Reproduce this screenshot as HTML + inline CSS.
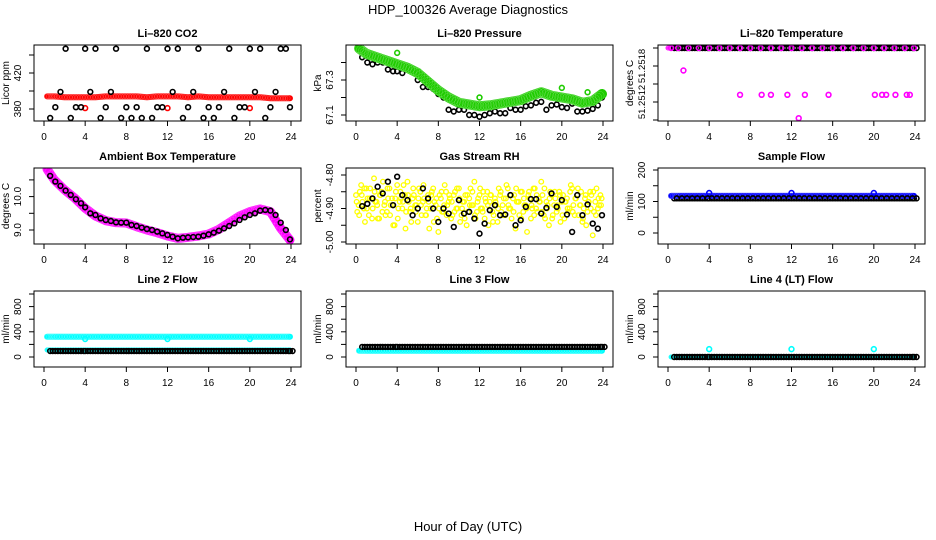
<!DOCTYPE html>
<html><head><meta charset="utf-8"><style>
html,body{margin:0;padding:0;background:#fff;width:936px;height:540px;overflow:hidden}
svg{display:block;font-family:"Liberation Sans",Arial,sans-serif}
</style></head><body>
<svg id="chart" width="936" height="540" viewBox="0 0 936 540" xmlns="http://www.w3.org/2000/svg">
<text x="468" y="14" font-size="13" text-anchor="middle">HDP_100326  Average Diagnostics</text>
<text x="468" y="531" font-size="13" text-anchor="middle">Hour of Day (UTC)</text>
</svg>
<script>
// ---------- data ----------
const xTicks = [0,4,8,12,16,20,24];
const hoursBlack = [0.6,1.1,1.6,2.1,2.6,3.1,3.6,4.0,4.5,5.0,5.5,6.0,6.5,7.0,7.5,8.0,8.5,9.0,9.5,10.0,10.5,11.0,11.5,12.0,12.5,13.0,13.5,14.0,14.5,15.0,15.5,16.0,16.5,17.0,17.5,18.0,18.5,19.0,19.5,20.0,20.5,21.0,21.5,22.0,22.5,23.0,23.5,23.9];
const hoursBand = [0.3,1,2,3,4,5,6,7,8,9,10,11,12,13,14,15,16,17,18,19,20,21,22,23,23.9];

const co2Black = [370,382,399,447,370,382,382,447,399,447,370,382,399,447,370,382,370,382,370,447,370,382,382,447,399,447,370,382,399,447,370,382,370,382,399,447,370,382,382,447,399,447,370,382,399,447,447,382];
const co2Red = [394,394,393,393,393,393,394,394,394,394,393,394,394,394,393,394,393,393,393,393,393,393,392,392,392];
const co2RedLow = [[4.0,381],[12.0,381],[20.0,381]];

const presBlack = [67.43,67.40,67.39,67.40,67.40,67.36,67.35,67.35,67.34,67.36,67.35,67.30,67.26,67.26,67.25,67.22,67.20,67.13,67.12,67.13,67.13,67.10,67.10,67.09,67.10,67.11,67.12,67.11,67.11,67.14,67.13,67.13,67.15,67.155,67.17,67.175,67.13,67.155,67.16,67.145,67.14,67.165,67.12,67.12,67.125,67.135,67.155,67.20];
const presGreen = [67.48,67.45,67.43,67.41,67.39,67.37,67.34,67.29,67.24,67.20,67.17,67.16,67.15,67.155,67.165,67.175,67.185,67.21,67.23,67.21,67.20,67.19,67.17,67.18,67.22];
const presGreenOut = [[4.0,67.455],[12.0,67.2],[20.0,67.255],[22.5,67.23]];

const tempBlack = hoursBlack.map(()=>51.2518);
const tempMag = hoursBand.map(()=>51.2518);
const tempMagOut = [[1.5,51.251775],[7.0,51.251748],[9.1,51.251748],[10.0,51.251748],[11.6,51.251748],[13.3,51.251748],[15.6,51.251748],[20.1,51.251748],[20.8,51.251748],[21.2,51.251748],[22.1,51.251748],[23.2,51.251748],[23.5,51.251748],[12.7,51.251722]];

const ambMag = [10.82,10.5,10.2,9.95,9.65,9.42,9.28,9.22,9.21,9.1,9.0,8.92,8.82,8.75,8.78,8.82,8.88,9.02,9.22,9.42,9.55,9.63,9.55,9.05,8.7];
const ambBlack = [10.62,10.45,10.32,10.18,10.05,9.92,9.8,9.68,9.5,9.45,9.35,9.3,9.27,9.23,9.22,9.22,9.15,9.12,9.07,9.03,9.0,8.95,8.9,8.85,8.8,8.75,8.77,8.78,8.79,8.8,8.83,8.87,8.92,8.98,9.05,9.12,9.2,9.3,9.38,9.45,9.5,9.58,9.6,9.58,9.45,9.22,9.0,8.72];

const rhBlack = [-4.893,-4.886,-4.87,-4.835,-4.855,-4.82,-4.89,-4.805,-4.86,-4.875,-4.92,-4.90,-4.84,-4.87,-4.90,-4.94,-4.90,-4.915,-4.955,-4.875,-4.915,-4.91,-4.93,-4.975,-4.945,-4.905,-4.89,-4.92,-4.918,-4.86,-4.95,-4.935,-4.895,-4.872,-4.872,-4.915,-4.898,-4.855,-4.895,-4.875,-4.918,-4.97,-4.86,-4.92,-4.888,-4.945,-4.96,-4.92];
const rhYellowA = [-4.86,-4.89,-4.83,-4.90,-4.84,-4.92,-4.87,-4.81,-4.88,-4.93,-4.85,-4.89,-4.91,-4.84,-4.87,-4.95,-4.83,-4.88,-4.90,-4.86,-4.82,-4.91,-4.87,-4.89,-4.94,-4.85,-4.88,-4.92,-4.86,-4.90,-4.84,-4.89,-4.97,-4.87,-4.91,-4.85,-4.88,-4.93,-4.86,-4.90,-4.84,-4.92,-4.88,-4.95,-4.87,-4.89,-4.82,-4.91,-4.86,-4.90,-4.93,-4.85,-4.88,-4.91,-4.87,-4.94,-4.86,-4.89,-4.92,-4.84,-4.90,-4.87,-4.96,-4.88,-4.85,-4.91,-4.89,-4.86,-4.93,-4.84,-4.90,-4.87,-4.82,-4.92,-4.88,-4.95,-4.86,-4.89,-4.91,-4.85,-4.88,-4.93,-4.87,-4.90,-4.84,-4.92,-4.86,-4.89,-4.94,-4.87,-4.91,-4.85,-4.98,-4.88,-4.90,-4.86];
const rhYellowB = [-4.91,-4.85,-4.88,-4.94,-4.87,-4.84,-4.90,-4.88,-4.93,-4.86,-4.82,-4.92,-4.87,-4.89,-4.95,-4.85,-4.90,-4.87,-4.83,-4.91,-4.88,-4.94,-4.86,-4.89,-4.84,-4.92,-4.87,-4.90,-4.96,-4.85,-4.88,-4.93,-4.86,-4.91,-4.83,-4.89,-4.87,-4.92,-4.85,-4.90,-4.94,-4.88,-4.86,-4.91,-4.84,-4.89,-4.93,-4.87,-4.90,-4.85,-4.88,-4.95,-4.86,-4.92,-4.89,-4.84,-4.91,-4.87,-4.83,-4.90,-4.93,-4.86,-4.88,-4.92,-4.85,-4.89,-4.97,-4.87,-4.90,-4.84,-4.91,-4.88,-4.86,-4.93,-4.89,-4.85,-4.92,-4.87,-4.90,-4.94,-4.86,-4.88,-4.91,-4.83,-4.89,-4.87,-4.92,-4.85,-4.90,-4.95,-4.88,-4.86,-4.91,-4.84,-4.89,-4.87];
const rhYellowC = [-4.88,-4.92,-4.86,-4.84,-4.90,-4.87,-4.93,-4.85,-4.89,-4.86,-4.91,-4.88,-4.84,-4.92,-4.89,-4.87,-4.93,-4.85,-4.88,-4.96,-4.86,-4.90,-4.84,-4.91,-4.87,-4.89,-4.83,-4.92,-4.88,-4.86,-4.94,-4.87,-4.90,-4.85,-4.89,-4.92,-4.86,-4.88,-4.91,-4.84,-4.87,-4.90,-4.93,-4.86,-4.89,-4.85,-4.92,-4.88,-4.84,-4.91,-4.87,-4.89,-4.86,-4.94,-4.88,-4.90,-4.85,-4.92,-4.87,-4.89,-4.86,-4.91,-4.84,-4.88,-4.93,-4.87,-4.90,-4.85,-4.89,-4.92,-4.86,-4.88,-4.91,-4.84,-4.90,-4.87,-4.93,-4.85,-4.89,-4.86,-4.92,-4.88,-4.90,-4.85,-4.91,-4.87,-4.84,-4.89,-4.93,-4.86,-4.88,-4.90,-4.85,-4.92,-4.87,-4.89];

const flowBlue = hoursBand.map(()=>118);
const flowBlueOut = [[4.0,127],[12.0,127],[20.0,127]];
const flowBlack = hoursBlack.map(()=>110);

const line2CyanHigh = [322,322,322,322,322,322,322,322,322,322,322,322,322,322,322,322,322,322,322,322,322,322,322,322,322];
const line2CyanDip = [[4.0,285],[12.0,285],[20.0,285]];
const line2CyanLow = hoursBand.map(()=>111);
const line2Black = hoursBlack.map(()=>95);
const line3Cyan = hoursBand.map(()=>100);
const line3Black = hoursBlack.map(()=>160);
const line4Cyan = hoursBand.map(()=>0);
const line4CyanOut = [[4.0,125],[12.0,125],[20.0,125]];
const line4Black = hoursBlack.map(()=>0);

const co2Ticks=[380,400,420,440], co2Labels=["380","","420",""];
const presTicks=[67.1,67.2,67.3,67.4], presLabels=["67.1","","67.3",""];
const tempTicks=[51.2518,51.25178,51.25176,51.25174,51.25172], tempLabels=["","51.2518","","51.2512",""];
const ambTicks=[9.0,9.5,10.0,10.5], ambLabels=["9.0","","10.0",""];
const rhTicks=[-5.0,-4.95,-4.9,-4.85,-4.8], rhLabels=["-5.00","","-4.90","","-4.80"];
const sfTicks=[0,50,100,150,200], sfLabels=["0","","100","","200"];
const lfTicks=[0,200,400,600,800,1000], lfLabels=["0","","400","","800",""];

// ---------- drawing ----------
const NS="http://www.w3.org/2000/svg";
const svg=document.getElementById('chart');
function mk(tag,attrs,parent){const e=document.createElementNS(NS,tag);for(const k in attrs)e.setAttribute(k,attrs[k]);(parent||svg).appendChild(e);return e;}

function panel(cfg){
  const g=mk('g',{});
  
  
  const L=cfg.left, T=cfg.top, B=cfg.top+76, R=L+267;
  const xs=h=>L+10+h*247/24;
  const ys=v=>cfg.yRef-(v-cfg.vRef)*cfg.ppu;
  const t=mk('text',{x:(L+R)/2,y:T-8,'font-size':11,'font-weight':'bold','text-anchor':'middle'},g);
  t.textContent=cfg.title;
  
  
  const yt=mk('text',{x:0,y:0,'font-size':10,'text-anchor':'middle',transform:`translate(${L-25},${(T+B)/2}) rotate(-90)`},g);
  yt.textContent=cfg.ylab;
  
  
  xTicks.forEach(h=>{
    mk('line',{x1:xs(h),x2:xs(h),y1:B,y2:B+5,stroke:'#000','stroke-width':1},g);
    const tx=mk('text',{x:xs(h),y:B+19,'font-size':10,'text-anchor':'middle'},g);
    tx.textContent=h;
    
    
  });
  mk('line',{x1:xs(0),x2:xs(24),y1:B,y2:B,stroke:'#000'},g);
  cfg.ticks.forEach((v,i)=>{
    const y=ys(v);
    mk('line',{x1:L-5,x2:L,y1:y,y2:y,stroke:'#000'},g);
    if(cfg.labels[i]){
      const tx=mk('text',{x:0,y:0,'font-size':cfg.tfs||10,'text-anchor':'middle',transform:`translate(${L-13},${y}) rotate(-90)`},g);
      tx.textContent=cfg.labels[i];
      
      
    }
  });
  mk('line',{x1:L,x2:L,y1:ys(cfg.ticks[0]),y2:ys(cfg.ticks[cfg.ticks.length-1]),stroke:'#000'},g);
  const clipId='c'+cfg.name;
  const cp=mk('clipPath',{id:clipId},g);mk('rect',{x:L,y:T,width:267,height:76},cp);
  const dg=mk('g',{'clip-path':`url(#${clipId})`},g);
  cfg.draw(dg,xs,ys);
  const box=mk('rect',{x:L,y:T,width:267,height:76,fill:'none',stroke:'#000','stroke-width':1},g);
  
  
}
function band(g,xs,ys,hrs,vals,color,w,name){
  const p=mk('polyline',{points:hrs.map((h,i)=>xs(h)+','+ys(vals[i])).join(' '),fill:'none',stroke:color,'stroke-width':w,'stroke-linecap':'round','stroke-linejoin':'round'},g);
  
  
  hrs.forEach((h,i)=>{ if(i<hrs.length-1){ for(let k=0;k<4;k++){ const hh=h+(hrs[i+1]-h)*k/4; const vv=vals[i]+(vals[i+1]-vals[i])*k/4;
    mk('circle',{cx:xs(hh),cy:ys(vv),r:w/2-0.5,fill:'none',stroke:'#fff','stroke-width':0.4,opacity:0.35},g);} } });
}
function pts(g,xs,ys,hrs,vals,color,name,r,sw){
  hrs.forEach((h,i)=>{
    const c=mk('circle',{cx:xs(h),cy:ys(vals[i]),r:r||2.4,fill:'none',stroke:color,'stroke-width':sw||1.6},g);
    
    
  });
}
function pairs(g,xs,ys,arr,color,name,r){
  arr.forEach(p=>{
    const c=mk('circle',{cx:xs(p[0]),cy:ys(p[1]),r:r||2.4,fill:'none',stroke:color,'stroke-width':1.6},g);
    
    
  });
}
const qh=a=>a.map((_,i)=>i*0.25);

panel({name:'co2-panel',title:'Li\u2013820 CO2',ylab:'Licor ppm',left:34,top:45,vRef:380,yRef:109,ppu:0.9,ticks:co2Ticks,labels:co2Labels,
 draw:(g,xs,ys)=>{band(g,xs,ys,hoursBand,co2Red,'#f00',6,'co2-red-series');pairs(g,xs,ys,co2RedLow,'#f00','co2-red-point');pts(g,xs,ys,hoursBlack,co2Black,'#000','co2-black-point');}});
panel({name:'pressure-panel',title:'Li\u2013820 Pressure',ylab:'kPa',left:346,top:45,vRef:67.1,yRef:115,ppu:175,ticks:presTicks,labels:presLabels,
 draw:(g,xs,ys)=>{pts(g,xs,ys,hoursBlack,presBlack,'#000','pressure-black-point');band(g,xs,ys,hoursBand,presGreen,'#1fcc00',10,'pressure-green-series');pairs(g,xs,ys,presGreenOut,'#1fcc00','pressure-green-point');}});
panel({name:'temperature-panel',title:'Li\u2013820 Temperature',ylab:'degrees C',left:658,top:45,vRef:51.2518,yRef:48,ppu:900000,ticks:tempTicks,labels:tempLabels,tfs:9.5,
 draw:(g,xs,ys)=>{band(g,xs,ys,[0,0.4],[51.2518,51.2518],'#f0f',5,'temp-magenta-series');pts(g,xs,ys,hoursBlack,tempBlack,'#000','temp-black-point');pts(g,xs,ys,hoursBlack.map(h=>h+0.25),tempBlack,'#000','temp-black-point');pts(g,xs,ys,hoursBand,tempMag,'#f0f','temp-magenta-point');pairs(g,xs,ys,tempMagOut,'#f0f','temp-magenta-outlier');}});
panel({name:'ambient-panel',title:'Ambient Box Temperature',ylab:'degrees C',left:34,top:168,vRef:9.0,yRef:230,ppu:33.4,ticks:ambTicks,labels:ambLabels,
 draw:(g,xs,ys)=>{band(g,xs,ys,hoursBand,ambMag,'#f0f',9,'ambient-magenta-series');pts(g,xs,ys,hoursBlack,ambBlack,'#000','ambient-black-point');}});
panel({name:'rh-panel',title:'Gas Stream RH',ylab:'percent',left:346,top:168,vRef:-4.8,yRef:175,ppu:335,ticks:rhTicks,labels:rhLabels,
 draw:(g,xs,ys)=>{pts(g,xs,ys,qh(rhYellowA),rhYellowA,'#ff0','rh-yellow-point',2.3,1.3);pts(g,xs,ys,qh(rhYellowB).map(h=>h+0.12),rhYellowB,'#ff0','rh-yellow-point',2.3,1.3);pts(g,xs,ys,qh(rhYellowC).map(h=>h+0.06),rhYellowC,'#ff0','rh-yellow-point',2.3,1.3);pts(g,xs,ys,hoursBlack,rhBlack,'#000','rh-black-point');}});
panel({name:'sample-flow-panel',title:'Sample Flow',ylab:'ml/min',left:658,top:168,vRef:0,yRef:233,ppu:0.315,ticks:sfTicks,labels:sfLabels,
 draw:(g,xs,ys)=>{pts(g,xs,ys,hoursBlack,flowBlack,'#000','flow-black-point');band(g,xs,ys,hoursBand,flowBlue,'#00f',6,'flow-blue-series');pairs(g,xs,ys,flowBlueOut,'#00f','flow-blue-point');pts(g,xs,ys,hoursBlack.map(h=>h+0.25),flowBlack,'#000','flow-black-point');}});
panel({name:'line2-flow-panel',title:'Line 2 Flow',ylab:'ml/min',left:34,top:291,vRef:0,yRef:357,ppu:0.063,ticks:lfTicks,labels:lfLabels,
 draw:(g,xs,ys)=>{band(g,xs,ys,hoursBand,line2CyanHigh,'#0ff',6,'line2-cyan-high');pairs(g,xs,ys,line2CyanDip,'#0ff','line2-cyan-dip');band(g,xs,ys,hoursBand,line2CyanLow,'#0ff',5,'line2-cyan-low');pts(g,xs,ys,hoursBlack,line2Black,'#000','line2-black-point');pts(g,xs,ys,hoursBlack.map(h=>h+0.25),line2Black,'#000','line2-black-point');}});
panel({name:'line3-flow-panel',title:'Line 3 Flow',ylab:'ml/min',left:346,top:291,vRef:0,yRef:357,ppu:0.063,ticks:lfTicks,labels:lfLabels,
 draw:(g,xs,ys)=>{band(g,xs,ys,hoursBand,line3Cyan,'#0ff',6,'line3-cyan-series');pts(g,xs,ys,hoursBlack,line3Black,'#000','line3-black-point');pts(g,xs,ys,hoursBlack.map(h=>h+0.25),line3Black,'#000','line3-black-point');}});
panel({name:'line4-flow-panel',title:'Line 4 (LT) Flow',ylab:'ml/min',left:658,top:291,vRef:0,yRef:357,ppu:0.063,ticks:lfTicks,labels:lfLabels,
 draw:(g,xs,ys)=>{band(g,xs,ys,hoursBand,line4Cyan,'#0ff',5,'line4-cyan-series');pts(g,xs,ys,hoursBlack,line4Black,'#000','line4-black-point');pts(g,xs,ys,hoursBlack.map(h=>h+0.25),line4Black,'#000','line4-black-point');pairs(g,xs,ys,line4CyanOut,'#0ff','line4-cyan-point');}});
</script>
</body></html>
